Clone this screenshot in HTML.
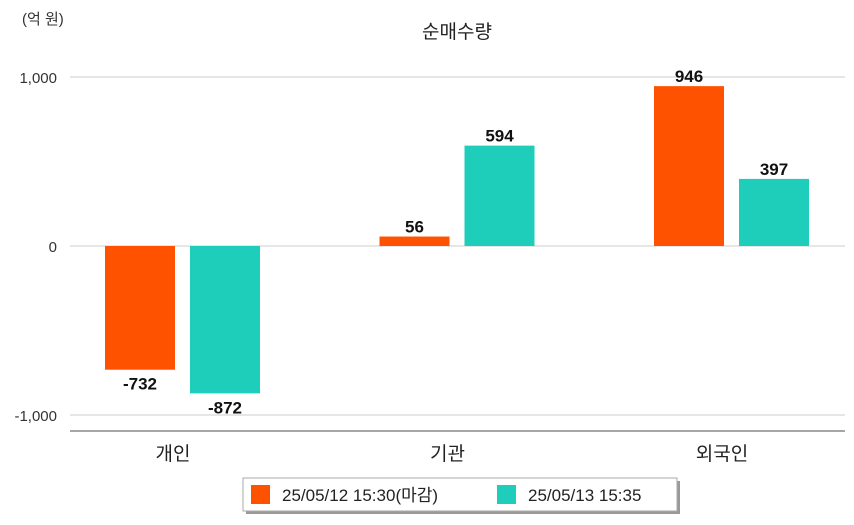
<!DOCTYPE html>
<html><head><meta charset="utf-8">
<style>
body{margin:0;background:#fff;width:854px;height:520px;overflow:hidden;font-family:"Liberation Sans","Noto Sans CJK KR",sans-serif;}
</style></head>
<body>
<svg width="854" height="520" xmlns="http://www.w3.org/2000/svg" style="font-family:'Liberation Sans','Noto Sans CJK KR',sans-serif">
<text x="22" y="24" font-size="15" fill="#333">(억 원)</text>
<text x="457" y="38" font-size="19" fill="#222" text-anchor="middle">순매수량</text>
<g id="grid"></g>
<g id="bars"></g>
<line x1="70" y1="431" x2="845" y2="431" stroke="#888" stroke-width="1.5"/>
<g>
<rect x="246" y="481" width="434" height="33" fill="#999"/>
<rect x="243" y="478" width="434" height="33" fill="#fff" stroke="#aaa"/>
<rect x="251" y="485" width="19" height="19" fill="#ff5200"/>
<text x="282" y="501" font-size="17" fill="#222">25/05/12 15:30(마감)</text>
<rect x="497" y="485" width="19" height="19" fill="#1ecebb"/>
<text x="528" y="501" font-size="17" fill="#222">25/05/13 15:35</text>
</g>
</svg>
<script>
const categories=["개인","기관","외국인"];
const series1=[-732,56,946];
const series2=[-872,594,397];
const ticks=[-1000,0,1000];
const tickLabels=["-1,000","0","1,000"];
const NS="http://www.w3.org/2000/svg";
function y(v){return 246-v*0.169;}
function cx(i){return 183+i*274.5;}
function mk(t,a,p){const e=document.createElementNS(NS,t);for(const k in a)e.setAttribute(k,a[k]);p.appendChild(e);return e;}
const g=document.getElementById('grid'),b=document.getElementById('bars');
ticks.forEach((t,i)=>{
 const l=mk('line',{x1:70,x2:845,y1:y(t),y2:y(t),stroke:'#ccc'},g);
 
 
 const tx=mk('text',{x:57,y:y(t)+6,'font-size':15,fill:'#333','text-anchor':'end'},g);
 tx.textContent=tickLabels[i];
 
 
});
categories.forEach((c,i)=>{
 const t=mk('text',{x:cx(i)-10,y:460,'font-size':19,fill:'#222','text-anchor':'middle'},g);
 t.textContent=c;
 
 
 [[series1,'#ff5200',-78],[series2,'#1ecebb',7]].forEach(([s,col,off],k)=>{
  const v=s[i],x=cx(i)+off,top=Math.min(y(v),y(0)),h=Math.abs(y(v)-y(0));
  const r=mk('rect',{x:x,y:top,width:70,height:h,fill:col},b);
  
  
  const lt=mk('text',{x:x+35,y:v>=0?y(v)-4:y(v)+20,'font-size':17,'font-weight':'bold',fill:'#111','text-anchor':'middle'},b);
  lt.textContent=v;
  
  
 });
});
</script>
</body></html>
